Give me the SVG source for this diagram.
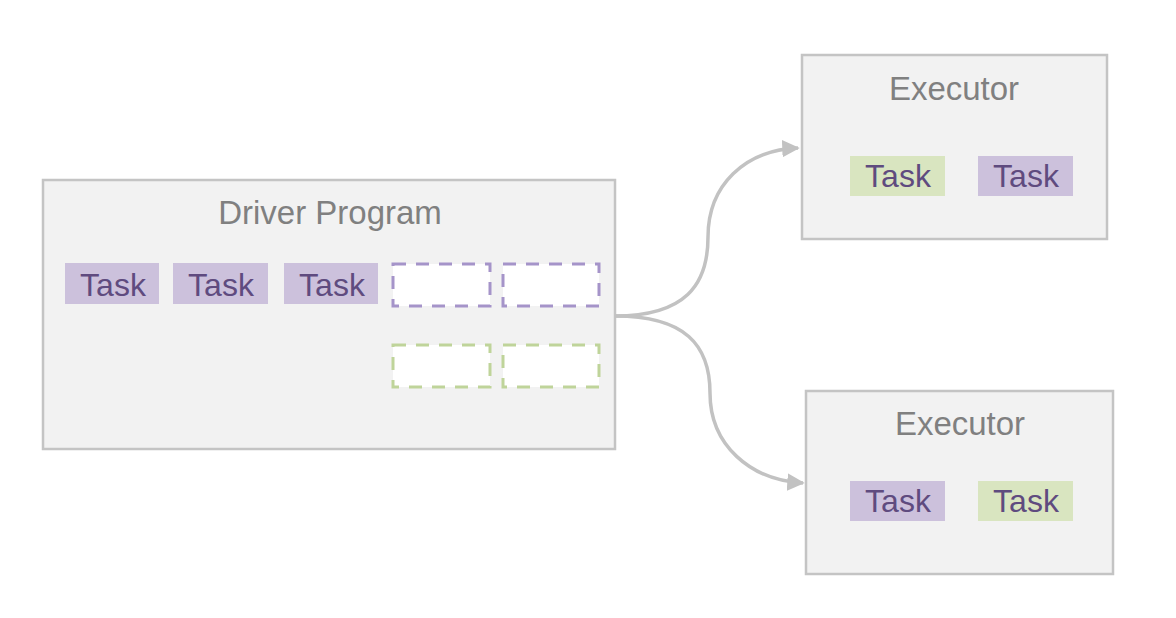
<svg xmlns="http://www.w3.org/2000/svg" width="1176" height="618" viewBox="0 0 1176 618">
<defs>
<style>
.box{fill:#f2f2f2;stroke:#c4c4c4;stroke-width:2.5}
.title{font-family:'Liberation Sans',Arial,sans-serif;font-size:33px;fill:#808080;text-anchor:middle}
.task{font-family:'Liberation Sans',Arial,sans-serif;font-size:32px;fill:#5f4b7f;text-anchor:middle}
.p{fill:#ccc1dc}
.g{fill:#d9e5c0}
.dp{fill:#ffffff;stroke:#a594c9;stroke-width:3;stroke-dasharray:13,10}
.dg{fill:#ffffff;stroke:#bfd49a;stroke-width:3;stroke-dasharray:13,10}
.conn{fill:none;stroke:#c2c2c2;stroke-width:3.5}
</style>
<marker id="arr" viewBox="0 0 10 10" refX="9" refY="5" markerWidth="5" markerHeight="5" markerUnits="strokeWidth" orient="auto">
<path d="M0,0 L10,5 L0,10 z" fill="#c2c2c2"/>
</marker>
</defs>
<rect width="1176" height="618" fill="#ffffff"/>
<g id="driver">
<rect class="box" x="43" y="180" width="572" height="269"/>
<text class="title" x="330" y="224">Driver Program</text>
<rect class="p" x="65" y="263" width="94" height="41"/>
<text class="task" x="113" y="296">Task</text>
<rect class="p" x="173" y="263" width="95" height="41"/>
<text class="task" x="221" y="296">Task</text>
<rect class="p" x="284" y="263" width="94" height="41"/>
<text class="task" x="332" y="296">Task</text>
<rect class="dp" x="393" y="264" width="97" height="42"/>
<rect class="dp" x="503" y="264" width="96" height="42"/>
<rect class="dg" x="393" y="345" width="97" height="42"/>
<rect class="dg" x="503" y="345" width="96" height="42"/>
</g>
<g id="executor1">
<rect class="box" x="802" y="55" width="305" height="184"/>
<text class="title" x="954" y="100">Executor</text>
<rect class="g" x="850" y="156" width="95" height="40"/>
<text class="task" x="898" y="187">Task</text>
<rect class="p" x="978" y="156" width="95" height="40"/>
<text class="task" x="1026" y="187">Task</text>
</g>
<g id="executor2">
<rect class="box" x="806" y="391" width="307" height="183"/>
<text class="title" x="960" y="435">Executor</text>
<rect class="p" x="850" y="481" width="95" height="40"/>
<text class="task" x="898" y="512">Task</text>
<rect class="g" x="978" y="481" width="95" height="40"/>
<text class="task" x="1026" y="512">Task</text>
</g>
<g id="connectors">
<path class="conn" marker-end="url(#arr)" d="M615,316 C685,316 708,285 708,237 C708,185 745,150 798,148"/>
<path class="conn" marker-end="url(#arr)" d="M615,316 C685,316 710,345 710,393 C710,445 750,480 803,483"/>
</g>
</svg>
